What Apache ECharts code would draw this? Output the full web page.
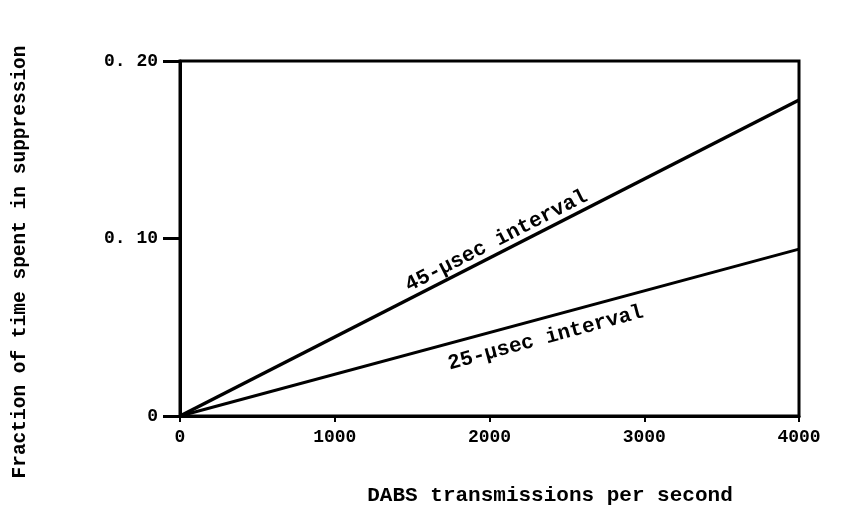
<!DOCTYPE html>
<html>
<head>
<meta charset="utf-8">
<script src="https://cdn.jsdelivr.net/npm/echarts@6/dist/echarts.min.js"></script>
<style>
  html, body { margin: 0; padding: 0; background: #fff; }
  #chart { width: 854px; height: 521px; }
</style>
</head>
<body>
<div id="chart"></div>
<script>
// transmissions per second
var rates = [0, 4000];
// fraction of time in suppression
var frac45 = [0, 0.178];
var frac25 = [0, 0.094];
var yTicks = {0: '0', 0.1: '0. 10', 0.2: '0. 20'};
var xTicks = [0, 1000, 2000, 3000, 4000];

var FONT = '"Liberation Mono", "DejaVu Sans Mono", monospace';

function pairs(xs, ys) {
    var out = [];
    for (var i = 0; i < xs.length; i++) out.push([xs[i], ys[i]]);
    return out;
}

var chart = echarts.init(document.getElementById('chart'));
chart.setOption({
    animation: false,
    backgroundColor: '#fff',
    grid: {
        left: 180, right: 55, top: 61, bottom: 105,
        show: true, borderColor: '#000', borderWidth: 3
    },
    xAxis: {
        type: 'value', min: 0, max: 4000, interval: 1000,
        axisLine: {lineStyle: {color: '#000', width: 3}},
        axisTick: {length: 6, lineStyle: {color: '#000', width: 2}},
        axisLabel: {
            color: '#000', fontFamily: FONT, fontSize: 18, fontWeight: 'bold', margin: 12,
            formatter: function (v) { return xTicks.indexOf(v) >= 0 ? String(v) : ''; }
        },
        splitLine: {show: false}
    },
    yAxis: {
        type: 'value', min: 0, max: 0.2, interval: 0.1,
        axisLine: {show: true, lineStyle: {color: '#000', width: 3}},
        axisTick: {show: true, length: 17, lineStyle: {color: '#000', width: 3}},
        axisLabel: {
            color: '#000', fontFamily: FONT, fontSize: 18, fontWeight: 'bold', margin: 22,
            formatter: function (v) { return yTicks[Math.round(v * 10) / 10] || ''; }
        },
        splitLine: {show: false}
    },
    series: [
        {
            type: 'line', data: pairs(rates, frac45), symbol: 'none',
            lineStyle: {color: '#000', width: 3.5}
        },
        {
            type: 'line', data: pairs(rates, frac25), symbol: 'none',
            lineStyle: {color: '#000', width: 3}
        }
    ]
});

// labels placed along the lines, from the chart's own scales
function lineLabel(text, ys, xVal, offset) {
    var p0 = chart.convertToPixel({gridIndex: 0}, [rates[0], ys[0]]);
    var p1 = chart.convertToPixel({gridIndex: 0}, [rates[1], ys[1]]);
    var ang = Math.atan2(p0[1] - p1[1], p1[0] - p0[0]);
    var t = (xVal - rates[0]) / (rates[1] - rates[0]);
    var x = p0[0] + t * (p1[0] - p0[0]);
    var y = p0[1] + t * (p1[1] - p0[1]);
    // perpendicular offset (positive = above line)
    x += -Math.sin(ang) * offset;
    y += -Math.cos(ang) * offset;
    return {
        type: 'text', x: x, y: y, rotation: ang,
        style: {
            text: text, fill: '#000', font: 'bold 21px ' + FONT,
            align: 'center', verticalAlign: 'middle'
        }
    };
}

chart.setOption({
    graphic: [
        lineLabel('45-\u00b5sec interval', frac45, 2080, 12),
        lineLabel('25-\u00b5sec interval', frac25, 2330, -20),
        {
            type: 'text', x: 20, y: 262, rotation: Math.PI / 2,
            style: {
                text: 'Fraction of time spent in suppression', fill: '#000',
                font: 'bold 19.5px ' + FONT, align: 'center', verticalAlign: 'middle'
            }
        },
        {
            type: 'text', x: 550, y: 496,
            style: {
                text: 'DABS transmissions per second', fill: '#000',
                font: 'bold 21px ' + FONT, align: 'center', verticalAlign: 'middle'
            }
        }
    ]
});
</script>
</body>
</html>
